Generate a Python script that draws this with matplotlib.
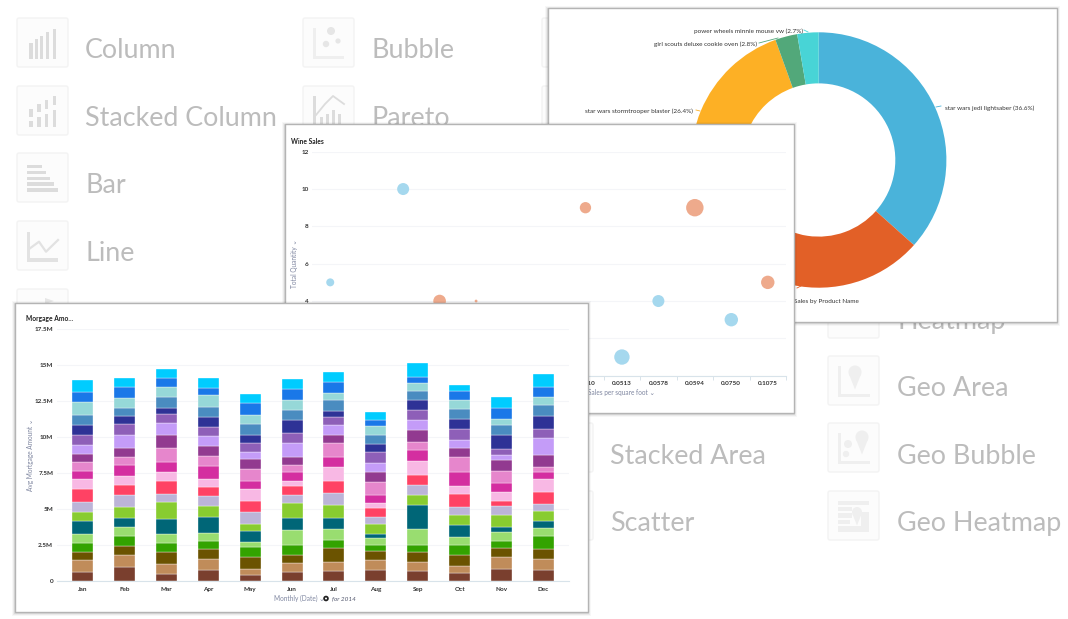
import matplotlib
matplotlib.use("Agg")
import matplotlib.pyplot as plt
from matplotlib.patches import Rectangle, FancyBboxPatch, Circle, Polygon
import numpy as np

W, H = 1068, 619
FONT = ['Lato', 'DejaVu Sans']
plt.rcParams['font.family'] = FONT

# ---------- data ----------
months = ['Jan', 'Feb', 'Mar', 'Apr', 'May', 'Jun', 'Jul', 'Aug', 'Sep', 'Oct', 'Nov', 'Dec']
brown = [.63, .97, .44, .74, .39, .60, .67, .72, .67, .51, .81, .72]
tan = [.81, .84, .74, .79, .42, .65, .65, .72, .63, .53, .81, .79]
olive = [.58, .60, .81, .70, .84, .51, .95, .63, .70, .77, .67, .70]
green = [.63, .72, .63, .53, .67, .74, .56, .42, .51, .70, .49, .93]
ltgreen = [.58, .63, .65, .58, .35, 1.04, .79, .51, 1.11, .56, .63, .53]
teal = [.95, .63, 1.00, 1.07, .77, .79, .77, .28, 1.62, .77, .30, .51]
lime = [.58, .74, 1.23, .79, .51, 1.07, .86, .67, .72, .70, .86, .65]
lavender = [.74, .84, .56, .72, .84, .56, .88, .51, .70, .60, .60, .53]
red = [.86, .70, .86, .58, .72, .60, .79, .56, .67, .88, .37, .81]
ltpink = [.72, .58, .65, .58, .84, .37, 1.00, .35, 1.02, .56, .63, .93]
magenta = [.56, .77, .65, .90, .60, .60, .65, .58, .72, 1.00, .65, .46]
orchid = [.58, .58, 1.02, .67, .79, .53, 1.00, .88, .60, 1.00, .81, .37]
plum = [.56, .65, .88, .74, .70, .56, .53, .70, .81, .65, .79, .84]
ltpurple = [.65, .86, .81, .70, .53, .93, .70, .63, .67, .53, .30, 1.18]
purple = [.67, .79, .67, .58, .58, .72, .58, .77, .74, .81, .46, .60]
navy = [.70, .56, .44, .70, .60, .90, .44, .56, .67, .70, .93, .88]
steel = [.74, .58, .74, .72, .74, .67, .74, .63, .60, .67, .70, .81]
ltteal = [.86, .65, .70, .81, .65, .72, .46, .63, .56, .63, .44, .56]
blue = [.70, .77, .58, .53, .79, .74, .77, .44, .46, .60, .79, .70]
cyan = [.86, .63, .63, .65, .67, .72, .70, .51, .97, .44, .74, .90]
stack_series = [brown, tan, olive, green, ltgreen, teal, lime, lavender, red, ltpink,
                magenta, orchid, plum, ltpurple, purple, navy, steel, ltteal, blue, cyan]
stack_colors = ['#7a3f2e', '#c08c5a', '#6b5300', '#33a300', '#99dd70', '#006677', '#88cc30',
                '#bcb4d8', '#ff4264', '#f8b8e4', '#d42ea0', '#e686cc', '#923a90', '#c49cf8',
                '#8e5fb8', '#2e3296', '#4a8cc0', '#96d8d8', '#1a78e8', '#00ccff']
mortgage_ticks = [0, 2.5, 5, 7.5, 10, 12.5, 15, 17.5]
mortgage_tick_labels = ['0', '2.5M', '5M', '7.5M', '10M', '12.5M', '15M', '17.5M']

wine_blue_x = [0, 2, 8, 9, 11]
wine_blue_qty = [5, 10, 1, 4, 3]
wine_blue_size = [16, 36, 59, 36, 45]
wine_orange_x = [3, 4, 7, 10, 12]
wine_orange_qty = [4, 4, 9, 9, 5]
wine_orange_size = [40, 2, 32, 76, 45]
wine_y_ticks = [0, 2, 4, 6, 8, 10, 12]
wine_x_pos = [7, 8, 9, 10, 11, 12]
wine_x_labels = ['0.0510', '0.0513', '0.0578', '0.0594', '0.0750', '0.1075']

toy_labels = ['star wars jedi lightsaber', '', 'star wars stormtrooper blaster',
              'girl scouts deluxe cookie oven', 'power wheels minnie mouse vw']
toy_share = [36.6, 31.5, 26.4, 2.8, 2.7]
toy_colors = ['#4ab3da', '#e26027', '#fdb025', '#52a87a', '#48d4d6']

menu_items = [('Column', 85, 48), ('Stacked Column', 85, 116), ('Bar', 85, 183), ('Line', 85, 251),
              ('Bubble', 371, 48), ('Pareto', 371, 116),
              ('Stacked Area', 610, 454), ('Scatter', 610, 521),
              ('Heatmap', 897, 319), ('Geo Area', 897, 386), ('Geo Bubble', 897, 454),
              ('Geo Heatmap', 897, 521)]


# ---------- helpers ----------
fig = plt.figure(figsize=(W / 100, H / 100), dpi=100, facecolor='white')


def canvas(z):
    a = fig.add_axes([0, 0, 1, 1], zorder=z)
    a.set_xlim(0, W)
    a.set_ylim(H, 0)
    a.axis('off')
    a.patch.set_visible(False)
    return a


def px_axes(x0, y0, x1, y1, z):
    a = fig.add_axes([x0 / W, 1 - y1 / H, (x1 - x0) / W, (y1 - y0) / H], zorder=z)
    a.patch.set_visible(False)
    return a


def panel(a, x0, y0, x1, y1):
    for i, al in zip((4, 3, 2, 1), (.03, .05, .07, .10)):
        a.add_patch(Rectangle((x0 - i + 1, y0 - i + 2), x1 - x0 + 2 * i - 2, y1 - y0 + 2 * i - 2,
                              fc='black', ec='none', alpha=al))
    a.add_patch(Rectangle((x0, y0), x1 - x0, y1 - y0, fc='white', ec='#b4b4b4', lw=1))


# ---------- background menu ----------
bg = canvas(0)
for label, x, y in menu_items:
    bg.text(x, y + 2.2, label, fontsize=19.4, color='#bcbcbc', va='center', ha='left')


def box(x, y):
    bg.add_patch(FancyBboxPatch((x + 1, y + 1), 51, 49, boxstyle='round,pad=0,rounding_size=2',
                                fc='#fcfcfc', ec='#f3f3f3', lw=1))


def rects(x, y, items, c):
    for (a, b, w, h) in items:
        bg.add_patch(Rectangle((x + a, y + b), w, h, fc=c, ec='none'))


box_y = [17, 85, 152, 220, 288, 355, 422, 490]
cols = [16, 302, 541, 827]
for xb, rows in zip(cols, [[0, 1, 2, 3, 4], [0, 1], [0, 1, 6, 7], [4, 5, 6, 7]]):
    for r in rows:
        box(xb, box_y[r])

D = '#dcdcdc'
L = '#efefef'
x, y = cols[0], box_y[0]
rects(x, y, [(13.3 + d, t, 3.3, 42.3 - t) for d, t in zip((0, 5.3, 10.7, 16.7, 23.4), (26.3, 22.3, 19, 15.3, 11.7))], D)
y = box_y[1]
rects(x, y, [(13.3, 23.7, 3.3, 8.3), (13.3, 36, 3.3, 6), (21.3, 19.3, 3.3, 7.7), (21.3, 32, 3.3, 10),
             (29, 15.3, 3.3, 8.4), (29, 28.7, 3.3, 13.3), (36.7, 11.3, 3.3, 9), (36.7, 25.3, 3.3, 16.7)], D)
y = box_y[2]
rects(x, y, [(11, 13, 15.3, 3.3), (11, 19, 19.3, 3.3), (11, 24.7, 22.7, 3.3), (11, 30.3, 26.7, 3.3), (11, 36, 31, 3.7)], D)
y = box_y[3]
rects(x, y, [(11, 11.7, 3.3, 30), (11, 38.3, 31, 3.4)], '#e2e2e2')
bg.plot([x + 14, x + 23, x + 30, x + 42], [y + 28.3, y + 21.7, y + 31.7, y + 20], color='#e2e2e2', lw=1.6)
bg.add_patch(Polygon([(x + 29, box_y[4] + 10), (x + 38, box_y[4] + 13), (x + 29, box_y[4] + 16)], fc='#e6e6e6', ec='none'))

x, y = cols[1], box_y[0]
rects(x, y, [(11, 11, 3, 31), (11, 39, 31, 3)], L)
for cx, cy, r in ((29, 14, 4), (24, 27, 3.2), (36, 24, 2.6)):
    bg.add_patch(Circle((x + cx, y + cy), r, fc='#e6e6e6', ec='none'))
y = box_y[1]
rects(x, y, [(11, 11, 3, 31), (11, 39, 31, 3), (18, 32, 2.5, 10), (24, 29, 2.5, 13), (30, 25, 2.5, 17), (36, 29, 2.5, 13)], D)
bg.plot([x + 14, x + 23, x + 31, x + 42], [y + 30, y + 19, y + 11, y + 19], color=D, lw=1.3)

# geo icons
x = cols[3]
rects(x, box_y[4], [(11, 15, 14, 5), (28, 10, 14, 10)], D)


def pin(xc, yc, r):
    bg.add_patch(Circle((xc, yc), r, fc=L, ec='none'))
    bg.add_patch(Polygon([(xc - r + .4, yc + 2), (xc + r - .4, yc + 2), (xc, yc + 2.7 * r)], fc=L, ec='none'))


y = box_y[5]
rects(x, y, [(11, 11, 3, 31), (11, 39, 32, 3)], L)
pin(x + 28, y + 17, 6.5)
y = box_y[6]
rects(x, y, [(11, 11, 3, 31), (11, 39, 32, 3)], L)
pin(x + 35, y + 15, 6.5)
bg.add_patch(Circle((x + 21, y + 22), 4, fc=L, ec='none'))
bg.add_patch(Circle((x + 19, y + 32), 3.2, fc=L, ec='none'))
y = box_y[7]
rects(x, y, [(11, 11, 31, 4), (11, 17, 14, 4), (11, 23, 14, 5), (11, 30, 12, 3.5), (11, 36, 31, 5.5), (34, 22, 8, 14)], L)
pin(x + 30, y + 22, 5)

# ---------- donut panel ----------
c1 = canvas(10)
panel(c1, 547.5, 8, 1057, 322)
R = 127.7
cx, cy = 818.7, 160
ax1 = px_axes(cx - R, cy - R, cx + R, cy + R, 11)
wedges, _ = ax1.pie(toy_share, colors=toy_colors, startangle=90, counterclock=False, radius=1,
                    wedgeprops=dict(width=0.4, edgecolor='none'))
ax1.set_xlim(-1, 1)
ax1.set_ylim(-1, 1)
c1b = canvas(12)
TXT = dict(fontsize=4.6, color='#333333', va='center')
c1b.text(945, 108, f'{toy_labels[0]} ({toy_share[0]}%)', ha='left', **TXT)
c1b.text(693, 111.7, f'{toy_labels[2]} ({toy_share[2]}%)', ha='right', **TXT)
c1b.text(757, 44.3, f'{toy_labels[3]} ({toy_share[3]}%)', ha='right', **TXT)
c1b.text(803, 31.3, f'{toy_labels[4]} ({toy_share[4]}%)', ha='right', **TXT)
c1b.text(794, 301.7, 'Sales by Product Name', ha='left', **TXT)
c1b.plot([936, 941], [107, 106], color=toy_colors[0], lw=.6)
c1b.plot([696, 700], [110, 111], color=toy_colors[2], lw=.6)
c1b.plot([759, 778], [43, 38], color=toy_colors[3], lw=.6)
c1b.plot([804, 808], [30, 32], color=toy_colors[4], lw=.6)
c1b.plot([797, 801], [288, 286], color=toy_colors[1], lw=.6)

# ---------- scatter panel ----------
c2 = canvas(20)
panel(c2, 284.5, 124, 793.5, 413)
ax2 = px_axes(312, 151.7, 786, 375.7, 21)
ax2.set_xlim(-.5, 12.5)
ax2.set_ylim(0, 12)
ax2.set_axisbelow(True)
ax2.grid(axis='y', color='#f4f5f8', lw=.8)
K = (2 * .72) ** 2
ax2.scatter(wine_blue_x, wine_blue_qty, s=[v * K for v in wine_blue_size], c='#a5d8ee', linewidths=0, clip_on=False, zorder=3)
ax2.scatter(wine_orange_x, wine_orange_qty, s=[v * K for v in wine_orange_size], c='#eeaa8c', linewidths=0, clip_on=False, zorder=3)
for s in ('top', 'left', 'right'):
    ax2.spines[s].set_visible(False)
ax2.spines['bottom'].set_color('#d8e3ea')
ax2.spines['bottom'].set_linewidth(.8)
ax2.set_yticks(wine_y_ticks)
ax2.set_yticklabels(wine_y_ticks, fontsize=4.6, color='#333333', fontweight='bold')
ax2.tick_params(axis='y', length=0, pad=2.5)
ax2.set_xticks(np.arange(-.5, 13))
ax2.set_xticklabels([])
ax2.tick_params(axis='x', length=2.6, width=.7, color='#d8e3ea')
for p, t in zip(wine_x_pos, wine_x_labels):
    ax2.text(p, -.4, t, ha='center', va='center', fontsize=4.6, color='#333333', fontweight='bold', clip_on=False)
c2b = canvas(22)
c2b.text(291, 141.5, 'Wine Sales', fontsize=4.8, color='#222222', fontweight='bold', va='center')
c2b.text(295, 264, 'Total Quantity ⌄', fontsize=4.7, color='#7f86a0', rotation=90, ha='center', va='center')
c2b.text(588, 393, 'Sales per square foot ⌄', fontsize=4.7, color='#7f86a0', ha='left', va='center')

# ---------- stacked column panel ----------
c3 = canvas(30)
panel(c3, 15, 302.5, 587.5, 611.5)
ax3 = px_axes(56.7, 329, 569.3, 580.7, 31)
ax3.set_xlim(-.62, 11.62)
ax3.set_ylim(0, 17.5)
ax3.set_axisbelow(True)
ax3.grid(axis='y', color='#f4f5f8', lw=.8)
base = np.zeros(12)
for vals, col in zip(stack_series, stack_colors):
    ax3.bar(np.arange(12), vals, bottom=base, width=21 / 41.87, color=col,
            edgecolor='white', linewidth=.25)
    base = base + np.array(vals)
for s in ('top', 'left', 'right'):
    ax3.spines[s].set_visible(False)
ax3.spines['bottom'].set_color('#d8e3ea')
ax3.set_yticks(mortgage_ticks)
ax3.set_yticklabels(mortgage_tick_labels, fontsize=4.6, color='#333333', fontweight='bold')
ax3.tick_params(axis='y', length=0, pad=2.5)
ax3.set_xticks(np.arange(12))
ax3.set_xticklabels(months, fontsize=4.6, color='#333333', fontweight='bold')
ax3.tick_params(axis='x', length=0, pad=4.5)
c3b = canvas(32)
c3b.text(26, 318.5, 'Morgage Amo...', fontsize=4.8, color='#222222', fontweight='bold', va='center')
c3b.text(30, 455, 'Avg Mortgage Amount ⌄', fontsize=4.7, color='#7f86a0', rotation=90, ha='center', va='center')
c3b.text(274, 598.5, 'Monthly (Date) ⌄', fontsize=4.7, color='#7f86a0', ha='left', va='center')
c3b.add_patch(Circle((326, 598.5), 2.8, fc='#222222', ec='none'))
c3b.add_patch(Circle((326, 598.5), 1.0, fc='white', ec='none'))
c3b.text(332, 598.5, 'for 2014', fontsize=4.6, color='#555a70', style='italic', ha='left', va='center')

fig.savefig('out.png', dpi=100, facecolor='white')
